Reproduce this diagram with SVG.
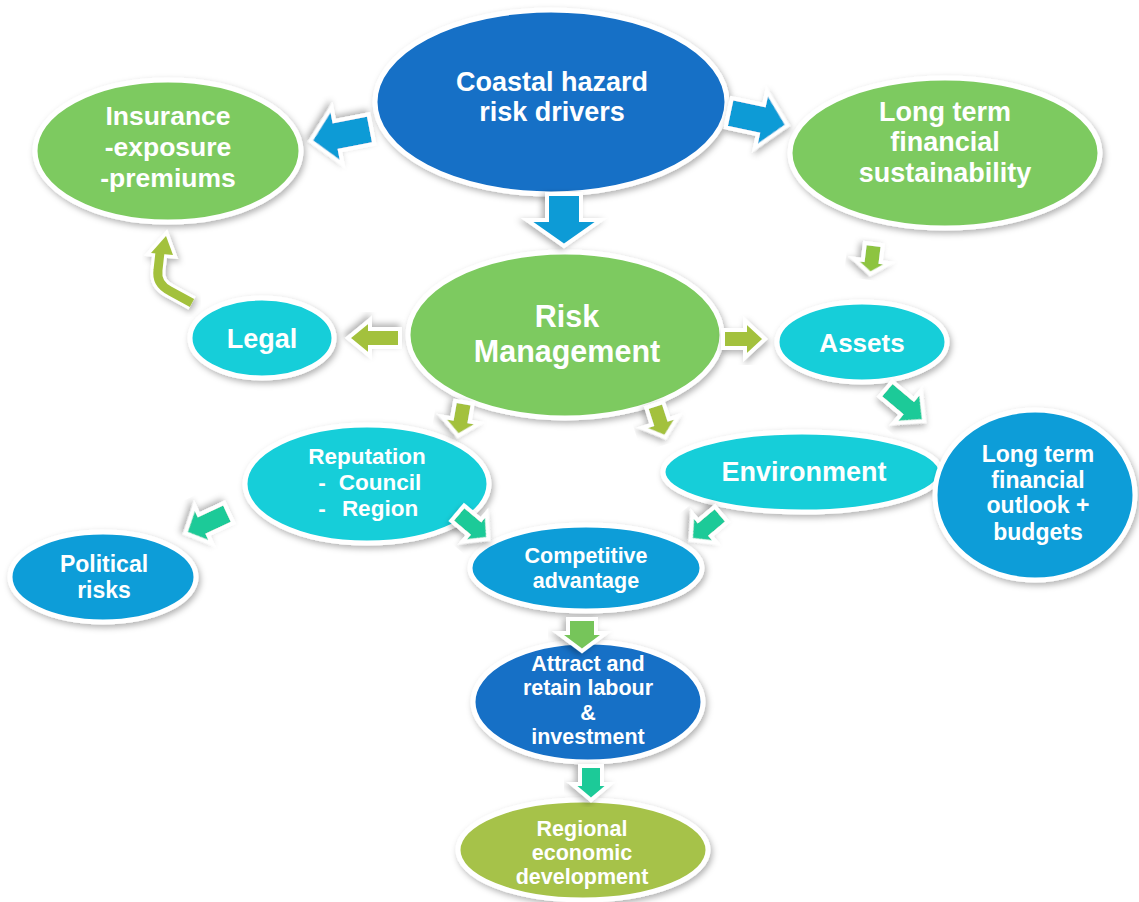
<svg xmlns="http://www.w3.org/2000/svg" width="1139" height="902" viewBox="0 0 1139 902">
<defs>
<filter id="sh" x="-20%" y="-20%" width="140%" height="140%">
<feDropShadow dx="2" dy="3" stdDeviation="3" flood-color="#000" flood-opacity="0.3"/>
</filter>
</defs>
<style>
.n{stroke:#fff;stroke-width:5;filter:url(#sh)}
.dk{fill:#156fc6}
.gr{fill:#7dca60}
.cy{fill:#14ced9}
.md{fill:#0f9dd8}
.ol{fill:#a6c24a}
.t{font-family:"Liberation Sans",Arial,sans-serif;font-weight:bold;fill:#fff;text-anchor:middle}
.a{stroke:#fff;stroke-width:4;stroke-linejoin:miter;filter:url(#sh)}
.ab{fill:#0d9bd6}
.ag{fill:#8dc43f}
.ao{fill:#a3c13c}
.at{fill:#1fca98}
.ag2{fill:#76c55a}
</style>
<rect width="1139" height="902" fill="#fff"/>
<g id="coastal"><ellipse class="n dk" cx="551" cy="102" rx="176" ry="92"/><text class="t" font-size="27" x="552" y="91">Coastal hazard</text><text class="t" font-size="27" x="552" y="121">risk drivers</text></g>
<g id="insurance"><ellipse class="n gr" cx="168" cy="151" rx="133" ry="71"/><text class="t" font-size="26.5" x="168" y="125">Insurance</text><text class="t" font-size="26.5" x="168" y="156">-exposure</text><text class="t" font-size="26.5" x="168" y="187">-premiums</text></g>
<g id="ltfs"><ellipse class="n gr" cx="945" cy="153" rx="155" ry="75"/><text class="t" font-size="27" x="945" y="121">Long term</text><text class="t" font-size="27" x="945" y="151">financial</text><text class="t" font-size="27" x="945" y="182">sustainability</text></g>
<g id="risk"><ellipse class="n gr" cx="565" cy="335" rx="157" ry="83"/><text class="t" font-size="30.5" x="567" y="327">Risk</text><text class="t" font-size="30.5" x="567" y="362">Management</text></g>
<g id="legal"><ellipse class="n cy" cx="262" cy="338" rx="72" ry="40"/><text class="t" font-size="27" x="262" y="348">Legal</text></g>
<g id="assets"><ellipse class="n cy" cx="862" cy="342" rx="85" ry="40"/><text class="t" font-size="26" x="862" y="352">Assets</text></g>
<g id="reputation"><ellipse class="n cy" cx="367" cy="484" rx="122" ry="59"/><text class="t" font-size="22.5" x="367" y="464">Reputation</text><text class="t" font-size="22.5" x="322" y="490">-</text><text class="t" font-size="22.5" x="380" y="490">Council</text><text class="t" font-size="22.5" x="322" y="516">-</text><text class="t" font-size="22.5" x="380" y="516">Region</text></g>
<g id="environment"><ellipse class="n cy" cx="802" cy="472" rx="139" ry="40"/><text class="t" font-size="27" x="804" y="481">Environment</text></g>
<g id="outlook"><ellipse class="n md" cx="1035" cy="495" rx="100" ry="85"/><text class="t" font-size="23" x="1038" y="462">Long term</text><text class="t" font-size="23" x="1038" y="488">financial</text><text class="t" font-size="23" x="1038" y="513">outlook +</text><text class="t" font-size="23" x="1038" y="540">budgets</text></g>
<g id="political"><ellipse class="n md" cx="103" cy="577" rx="93" ry="45"/><text class="t" font-size="23" x="104" y="572">Political</text><text class="t" font-size="23" x="104" y="598">risks</text></g>
<g id="competitive"><ellipse class="n md" cx="586" cy="568" rx="116" ry="43"/><text class="t" font-size="21.5" x="586" y="563">Competitive</text><text class="t" font-size="21.5" x="586" y="588">advantage</text></g>
<g id="attract"><ellipse class="n dk" cx="588" cy="702" rx="115" ry="60"/><text class="t" font-size="21.5" x="588" y="671">Attract and</text><text class="t" font-size="21.5" x="588" y="695">retain labour</text><text class="t" font-size="21.5" x="588" y="720">&amp;</text><text class="t" font-size="21.5" x="588" y="744">investment</text></g>
<g id="regional"><ellipse class="n ol" cx="583" cy="850" rx="125" ry="50"/><text class="t" font-size="21.5" x="582" y="836">Regional</text><text class="t" font-size="21.5" x="582" y="860">economic</text><text class="t" font-size="21.5" x="582" y="884">development</text></g>
<g id="connectors">
<path class="a ab" transform="translate(341,135) rotate(169)" d="M-31,-15 L4,-15 L4,-29 L31,0 L4,29 L4,15 L-31,15Z"/>
<path class="a ab" transform="translate(758,119) rotate(12)" d="M-30,-15 L3,-15 L3,-29 L30,0 L3,29 L3,15 L-30,15Z"/>
<path class="a ab" transform="translate(564,220) rotate(90)" d="M-26,-17 L0,-17 L0,-37 L26,0 L0,37 L0,17 L-26,17Z"/>
<path class="a ag" transform="translate(872,259) rotate(97)" d="M-15,-9 L2,-9 L2,-18 L15,0 L2,18 L2,9 L-15,9Z"/>
<path class="a ao" transform="translate(374,338) rotate(180)" d="M-26,-9 L4,-9 L4,-18 L26,0 L4,18 L4,9 L-26,9Z"/>
<path class="a ao" transform="translate(744,339)" d="M-21,-9 L1,-9 L1,-18.5 L21,0 L1,18.5 L1,9 L-21,9Z"/>
<path class="a at" transform="translate(905,405) rotate(40)" d="M-25,-10 L3,-10 L3,-21 L25,0 L3,21 L3,10 L-25,10Z"/>
<path class="a ao" transform="translate(461,419) rotate(100)" d="M-17,-9 L1,-9 L1,-19 L17,0 L1,19 L1,9 L-17,9Z"/>
<path class="a ao" transform="translate(660,421) rotate(72)" d="M-17,-9 L1,-9 L1,-19 L17,0 L1,19 L1,9 L-17,9Z"/>
<path class="a at" transform="translate(207,523) rotate(155)" d="M-24,-11 L4,-11 L4,-21 L24,0 L4,21 L4,11 L-24,11Z"/>
<path class="a at" transform="translate(473,526) rotate(40)" d="M-20,-10 L2,-10 L2,-19 L20,0 L2,19 L2,10 L-20,10Z"/>
<path class="a at" transform="translate(706,527) rotate(140)" d="M-20,-10 L2,-10 L2,-19 L20,0 L2,19 L2,10 L-20,10Z"/>
<path class="a ag2" transform="translate(582,635) rotate(90)" d="M-16,-14 L-2,-14 L-2,-24 L16,0 L-2,24 L-2,14 L-16,14Z"/>
<path class="a at" transform="translate(591,783) rotate(90)" d="M-17,-11 L1,-11 L1,-19 L17,0 L1,19 L1,11 L-17,11Z"/>
<g filter="url(#sh)">
<path d="M192,303 L170,291 Q156,284 158,270 L160,252" fill="none" stroke="#fff" stroke-width="15" stroke-linejoin="round"/>
<polygon points="151,253 173,255 166,236" fill="#fff" stroke="#fff" stroke-width="7" stroke-linejoin="miter"/>
<path d="M192,303 L170,291 Q156,284 158,270 L160,252" fill="none" stroke="#a3c13c" stroke-width="9"/>
<polygon points="151,253 173,255 166,236" fill="#a3c13c"/>
</g>
</g>
</svg>
